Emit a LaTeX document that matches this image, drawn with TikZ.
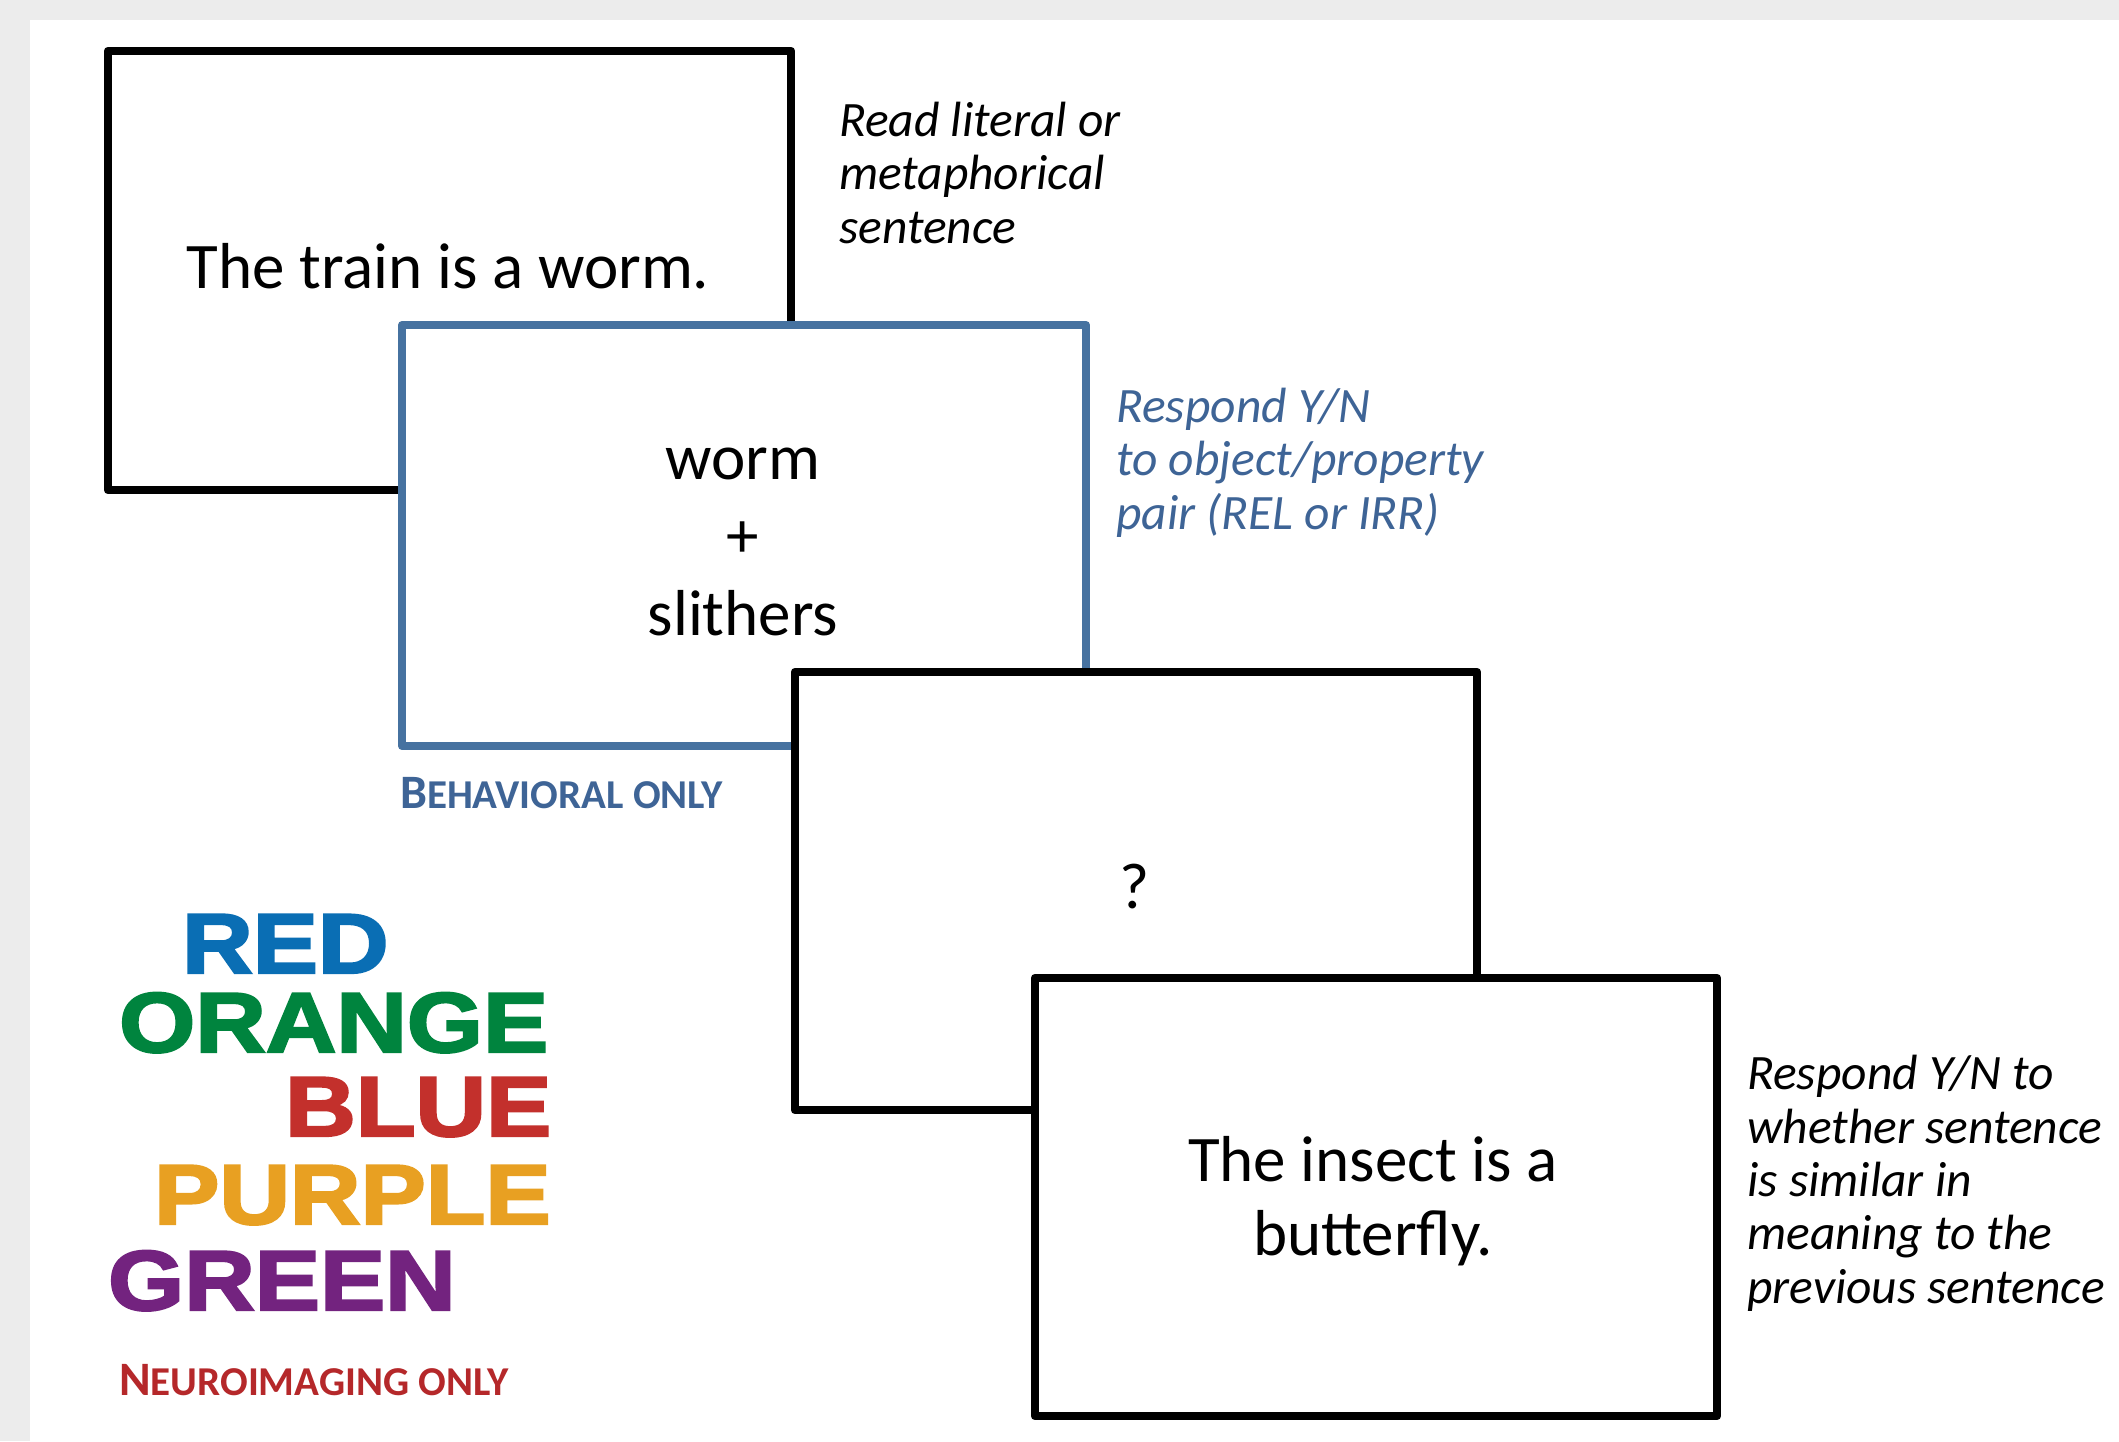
\documentclass[tikz,border=0pt]{standalone}
\usepackage{graphicx}
\usepackage{fontspec}
\setmainfont{Carlito}
\newfontfamily\heavyfont{Liberation Sans}
\definecolor{pagegray}{RGB}{236,236,236}
\definecolor{boxblue}{RGB}{70,114,160}
\definecolor{txtblue}{RGB}{62,100,150}
\definecolor{wblue}{RGB}{10,110,180}
\definecolor{wgreen}{RGB}{0,132,62}
\definecolor{wred}{RGB}{195,48,44}
\definecolor{worange}{RGB}{232,160,34}
\definecolor{wpurple}{RGB}{115,35,127}
\definecolor{labred}{RGB}{181,40,42}
\newcommand{\heavyword}[1]{\scalebox{1.15}[1]{\special{pdf:literal direct 2 Tr 2.2 w}#1\special{pdf:literal direct 0 Tr}}}
\begin{document}
\begin{tikzpicture}[x=1pt,y=-1pt,
  card/.style={draw=black, line width=8.5pt, fill=white, line join=round, inner sep=0pt, outer sep=0pt},
  bluecard/.style={card, draw=boxblue, line width=8pt},
  big/.style={inner sep=0pt, font=\fontsize{65}{78}\selectfont},
  note/.style={inner sep=0pt, anchor=base west, align=left, font=\fontsize{49.5}{53.3}\selectfont\itshape},
  colword/.style={inner sep=0pt, anchor=base west, font=\heavyfont\bfseries\fontsize{85}{85}\selectfont},
  sclabel/.style={inner sep=0pt, anchor=base west, font=\bfseries}
]
\useasboundingbox (0,0) rectangle (2119,1441);
\fill[pagegray] (0,0) rectangle (2119,1441);
\fill[white] (30,20) rectangle (2119,1441);

% cards
\node[card, minimum width=683pt, minimum height=439pt] (c1) at (449.5,270.5) {};
\node[bluecard, minimum width=684pt, minimum height=421pt] (c2) at (744,535.5) {};
\node[card, minimum width=682pt, minimum height=438pt] (c3) at (1136,891) {};
\node[card, minimum width=682pt, minimum height=438pt] (c4) at (1376,1197) {};

% card texts (multi-line nodes: base = baseline of last line)
\node[big, anchor=base] (t1) at (448,288) {The train is a worm.};
\node[big, anchor=base, align=center] (t2) at (743,635) {worm\\+\\slithers};
\node[big, anchor=base] (t3) at (1135,908) {?};
\node[big, anchor=base, align=center, font=\fontsize{65}{74}\selectfont] (t4) at (1373,1255) {The insect is a\\butterfly.};

% annotations
\node[note] (n1) at (839,243) {Read literal or\\metaphorical\\sentence};
\node[note, text=txtblue] (n2) at (1116,529) {Respond Y/N\\to object/property\\pair (REL or IRR)};
\node[note] (n4) at (1747,1303) {Respond Y/N to\\whether sentence\\is similar in\\meaning to the\\previous sentence};

% labels
\node[sclabel, text=txtblue] (beh) at (400,808) {{\fontsize{48}{48}\selectfont B}{\fontsize{41}{41}\selectfont EHAVIORAL ONLY}};
\node[sclabel, text=labred] (neu) at (119,1395) {{\fontsize{48}{48}\selectfont N}{\fontsize{41}{41}\selectfont EUROIMAGING ONLY}};

% colour words
\node[colword, text=wblue] (w1) at (182,973) {\heavyword{RED}};
\node[colword, text=wgreen] (w2) at (119,1052) {\heavyword{ORANGE}};
\node[colword, text=wred] (w3) at (285,1136) {\heavyword{BLUE}};
\node[colword, text=worange] (w4) at (154,1224) {\heavyword{PURPLE}};
\node[colword, text=wpurple] (w5) at (108,1310) {\heavyword{GREEN}};
\end{tikzpicture}
\end{document}
